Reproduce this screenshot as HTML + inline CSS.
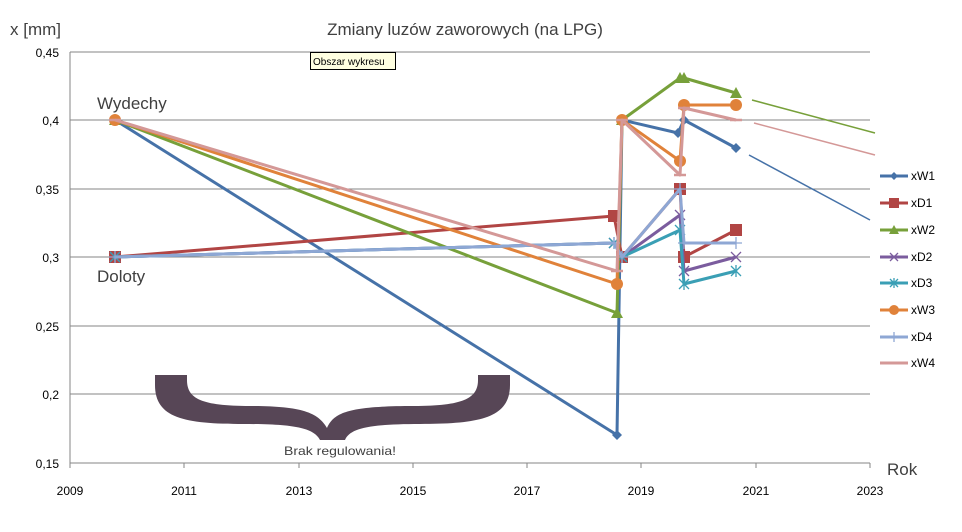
<!DOCTYPE html>
<html><head><meta charset="utf-8"><style>
body{margin:0;background:#fff;}
svg{display:block;font-family:"Liberation Sans",sans-serif;}
</style></head><body>
<svg id="s" width="962" height="532" viewBox="0 0 962 532" xmlns="http://www.w3.org/2000/svg">
<rect width="962" height="532" fill="#fff"/>
<g stroke="#868686" stroke-width="1">
<line x1="70" y1="52" x2="870" y2="52"/>
<line x1="70" y1="120" x2="870" y2="120"/>
<line x1="70" y1="189" x2="870" y2="189"/>
<line x1="70" y1="257" x2="870" y2="257"/>
<line x1="70" y1="326" x2="870" y2="326"/>
<line x1="70" y1="394" x2="870" y2="394"/>
<line x1="70" y1="463" x2="870" y2="463"/>
<line x1="70" y1="52" x2="70" y2="463"/>
<line x1="70" y1="463" x2="70" y2="468"/><line x1="184" y1="463" x2="184" y2="468"/><line x1="299" y1="463" x2="299" y2="468"/><line x1="413" y1="463" x2="413" y2="468"/><line x1="527" y1="463" x2="527" y2="468"/><line x1="641" y1="463" x2="641" y2="468"/><line x1="756" y1="463" x2="756" y2="468"/><line x1="870" y1="463" x2="870" y2="468"/>
</g>
<g font-size="12" fill="#000" text-anchor="end">
<text x="59" y="57">0,45</text><text x="59" y="125">0,4</text><text x="59" y="194">0,35</text><text x="59" y="262">0,3</text><text x="59" y="331">0,25</text><text x="59" y="399">0,2</text><text x="59" y="468">0,15</text>
</g>
<g font-size="12" fill="#000" text-anchor="middle">
<text x="70" y="495">2009</text><text x="184" y="495">2011</text><text x="299" y="495">2013</text><text x="413" y="495">2015</text><text x="527" y="495">2017</text><text x="641" y="495">2019</text><text x="756" y="495">2021</text><text x="870" y="495">2023</text>
</g>
<text x="10" y="35" font-size="17" fill="#404040">x [mm]</text>
<text x="465" y="35" font-size="17" fill="#404040" text-anchor="middle">Zmiany luzów zaworowych (na LPG)</text>
<text x="887" y="475" font-size="17" fill="#404040">Rok</text>
<text x="97" y="109" font-size="17" fill="#404040">Wydechy</text>
<text x="97" y="282" font-size="17" fill="#404040">Doloty</text>
<rect x="310.5" y="52.5" width="85" height="17" fill="#ffffe1" stroke="#000"/>
<text x="313" y="65" font-size="10" fill="#000">Obszar wykresu</text>
<path d="M155,375 H187 V380 C187,398 200,406 250,406 C300,406 318,412 327,428 C334,412 350,406 414,406 C464,406 478,398 478,380 V375 H510 V385 C510,418 480,424 420,424 C370,424 350,428 345,440 H320 C314,428 294,424 244,424 C184,424 155,418 155,385 Z" fill="#574656"/>
<text x="340" y="455" font-size="12" fill="#404040" text-anchor="middle" textLength="112" lengthAdjust="spacingAndGlyphs">Brak regulowania!</text>
<g stroke-width="1.5">
<line x1="752" y1="100" x2="875" y2="133" stroke="#77a03a"/>
<line x1="754" y1="123" x2="875" y2="155" stroke="#d49897"/>
<line x1="749" y1="155" x2="870" y2="220" stroke="#4672a8"/>
</g>
<g id="series"></g>
<g id="legend" font-size="12" fill="#000">
<text x="911" y="180">xW1</text><text x="911" y="207">xD1</text><text x="911" y="234">xW2</text><text x="911" y="261">xD2</text><text x="911" y="287">xD3</text><text x="911" y="314">xW3</text><text x="911" y="341">xD4</text><text x="911" y="367">xW4</text>
</g>
</svg>
<script>
var S=[
["#4672a8","d",[[115,120],[617,435],[622,120],[678,133],[684,120],[736,148]]],
["#b14544","s",[[115,257],[614,216],[622,257],[680,189],[684,257],[736,230]]],
["#77a03a","t",[[115,120],[617,313],[622,120],[680,78],[684,78],[736,93]]],
["#7b5c9e","x",[[115,257],[614,243],[622,257],[680,215],[684,271],[736,257]]],
["#3a9fb5","a",[[115,257],[614,243],[622,257],[680,230],[684,284],[736,271]]],
["#e0823a","c",[[115,120],[617,284],[622,120],[680,161],[684,105],[736,105]]],
["#8ea7d4","p",[[115,257],[614,243],[622,257],[680,189],[684,243],[736,243]]],
["#d49897","m",[[115,120],[617,271],[622,120],[680,175],[684,108],[736,120]]]
];
var NS="http://www.w3.org/2000/svg",g=document.getElementById("series"),svg=document.getElementById("s");
function el(p,t,a){var e=document.createElementNS(NS,t);for(var k in a)e.setAttribute(k,a[k]);p.appendChild(e);return e;}
function mk(p,c,m,x,y,r){r=r||6;
 if(m=="d")el(p,"polygon",{points:(x)+","+(y-r+1)+" "+(x+r-1)+","+y+" "+x+","+(y+r-1)+" "+(x-r+1)+","+y,fill:c});
 else if(m=="s")el(p,"rect",{x:x-r,y:y-r,width:2*r,height:2*r,fill:c});
 else if(m=="t")el(p,"polygon",{points:x+","+(y-r)+" "+(x+r)+","+(y+r-1)+" "+(x-r)+","+(y+r-1),fill:c});
 else if(m=="c")el(p,"circle",{cx:x,cy:y,r:r,fill:c});
 else if(m=="x"||m=="a"){var q=r-1;el(p,"path",{d:"M"+(x-q)+","+(y-q)+"L"+(x+q)+","+(y+q)+"M"+(x+q)+","+(y-q)+"L"+(x-q)+","+(y+q)+(m=="a"?"M"+x+","+(y-r)+"V"+(y+r):""),stroke:c,"stroke-width":1.3,fill:"none"});}
 else if(m=="p")el(p,"path",{d:"M"+(x-r)+","+y+"H"+(x+r)+"M"+x+","+(y-r)+"V"+(y+r),stroke:c,"stroke-width":1.3});
 else if(m=="m")el(p,"path",{d:"M"+(x-r)+","+y+"H"+(x+r),stroke:c,"stroke-width":2.5});
}
var Ly=[176,203,230,257,283,310,337,363];
S.forEach(function(s,i){
 el(g,"polyline",{points:s[2].map(function(p){return p.join(",")}).join(" "),fill:"none",stroke:s[0],"stroke-width":3,"stroke-linejoin":"round"});
 s[2].forEach(function(p){mk(g,s[0],s[1],p[0],p[1]);});
 el(svg,"line",{x1:880,y1:Ly[i],x2:908,y2:Ly[i],stroke:s[0],"stroke-width":3});
 mk(svg,s[0],s[1],894,Ly[i],5);
});
</script>
</body></html>
